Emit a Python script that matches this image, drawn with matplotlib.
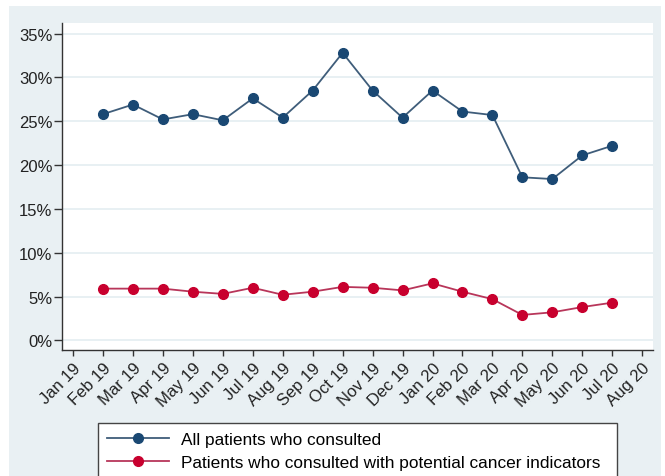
import matplotlib
matplotlib.use("Agg")
import matplotlib.pyplot as plt
from matplotlib.patches import Rectangle

months = ["Jan 19", "Feb 19", "Mar 19", "Apr 19", "May 19", "Jun 19", "Jul 19", "Aug 19",
          "Sep 19", "Oct 19", "Nov 19", "Dec 19", "Jan 20", "Feb 20", "Mar 20", "Apr 20",
          "May 20", "Jun 20", "Jul 20", "Aug 20"]
data_months = months[1:19]
all_patients = [25.8, 26.9, 25.2, 25.8, 25.1, 27.6, 25.4, 28.5, 32.8, 28.5, 25.4, 28.5,
                26.1, 25.7, 18.6, 18.4, 21.1, 22.2]
cancer_indicators = [5.9, 5.9, 5.9, 5.55, 5.3, 6.0, 5.2, 5.55, 6.1, 6.0, 5.7, 6.5,
                     5.55, 4.7, 2.9, 3.2, 3.8, 4.3]
y_ticks = [0, 5, 10, 15, 20, 25, 30, 35]

plt.rcParams['font.family'] = ['Liberation Sans', 'DejaVu Sans']

W, H = 665, 477
fig = plt.figure(figsize=(W / 100, H / 100), dpi=100)
fig.patch.set_facecolor('white')
# chart background panel
bg = Rectangle((9 / W, 0), (661 - 9) / W, (H - 7) / H, transform=fig.transFigure,
               facecolor='#e9f0f3', edgecolor='none', zorder=-5)
fig.add_artist(bg)

ax = fig.add_axes([62 / W, (H - 351) / H, (653 - 62) / W, (351 - 24) / H])
ax.set_facecolor('white')

x_all = list(range(len(months)))
x_data = [months.index(m) for m in data_months]

l1, = ax.plot(x_data, all_patients, color='#3f5d7a', lw=1.3, marker='o', markersize=7,
              markerfacecolor='#1a4873', markeredgecolor='#1a4873', zorder=3,
              label='All patients who consulted')
l2, = ax.plot(x_data, cancer_indicators, color='#b8365a', lw=1.3, marker='o', markersize=7,
              markerfacecolor='#c8002e', markeredgecolor='#c8002e', zorder=3,
              label='Patients who consulted with potential cancer indicators')

ax.set_xlim(-0.367, 19.36)
ax.set_ylim(-1.1, 36.2)
ax.set_yticks(y_ticks)
ax.set_yticklabels([f"{v}%" for v in y_ticks])
ax.set_xticks(x_all)
ax.set_xticklabels(months, rotation=45, ha='right', rotation_mode='anchor')

ax.grid(axis='y', color='#e4edf1', lw=1.2)
ax.set_axisbelow(True)
for s in ['top', 'right']:
    ax.spines[s].set_visible(False)
for s in ['left', 'bottom']:
    ax.spines[s].set_color('#333333')
    ax.spines[s].set_linewidth(1.0)

ax.tick_params(axis='y', length=5.5, width=1, color='#333333', pad=1.5, labelsize=12,
               labelcolor='#222222')
ax.tick_params(axis='x', length=4, width=1, color='#333333', pad=3, labelsize=12,
               labelcolor='#222222')

leg = fig.legend(handles=[l1, l2], loc='upper left',
                 bbox_to_anchor=(98 / W, 0, (617 - 98) / W, (H - 424) / H),
                 mode='expand', borderaxespad=0, fontsize=12.4, frameon=True,
                 fancybox=False, handlelength=3.6, handletextpad=0.7,
                 labelspacing=0.5, borderpad=0.5)
leg.get_frame().set_edgecolor('#444444')
leg.get_frame().set_linewidth(1.0)
leg.get_frame().set_facecolor('white')
leg.get_frame().set_alpha(1)

fig.savefig('out.png', dpi=100, facecolor=fig.get_facecolor())
